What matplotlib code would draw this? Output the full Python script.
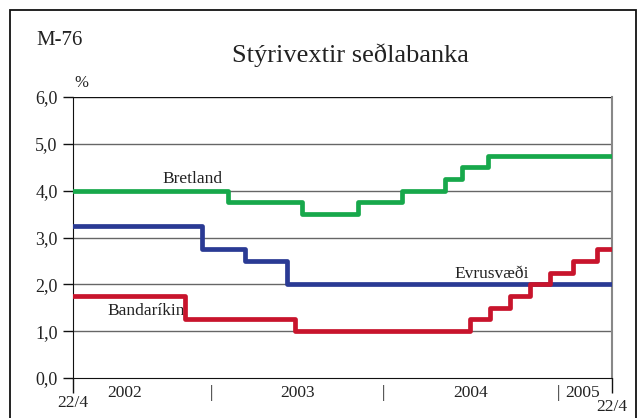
import matplotlib
matplotlib.use("Agg")
import matplotlib.pyplot as plt
from matplotlib.patches import Rectangle

plt.rcParams['font.family'] = ['Liberation Serif', 'DejaVu Serif']

# days since 22/4/2002
uk_days = [0, 315, 466, 580, 669, 756, 791, 844, 1096]
uk_rate = [4.0, 3.75, 3.5, 3.75, 4.0, 4.25, 4.5, 4.75, 4.75]

ez_days = [0, 262, 350, 435, 1096]
ez_rate = [3.25, 2.75, 2.5, 2.0, 2.0]

us_days = [0, 228, 451, 807, 848, 889, 929, 970, 1017, 1066, 1096]
us_rate = [1.75, 1.25, 1.0, 1.25, 1.5, 1.75, 2.0, 2.25, 2.5, 2.75, 2.75]

y_ticks = [0, 1, 2, 3, 4, 5, 6]
year_labels = ["2002", "2003", "2004", "2005"]
year_pos = [104, 457, 809, 1037]
sep_pos = [281, 632, 988]

green = "#17a84b"
blue = "#2a3a94"
red = "#c8142c"
txt = "#222222"

fig = plt.figure(figsize=(6.38, 4.18), dpi=100)
fig.patches.append(Rectangle((10 / 638, -0.05), 626 / 638, 1.05 - 10 / 418,
                             transform=fig.transFigure, fill=False,
                             edgecolor="#111111", lw=1.3))

ax = fig.add_axes([73 / 638, 40 / 418, 539 / 638, 281 / 418])
ax.set_xlim(0, 1096)
ax.set_ylim(0, 6)

for v in y_ticks[1:]:
    ax.axhline(v, color="#111111" if v == 6 else "#666666", lw=1.0, zorder=1)

ax.step(ez_days, ez_rate, where="post", color=blue, lw=3.4, zorder=3)
ax.step(us_days, us_rate, where="post", color=red, lw=3.4, zorder=4)
ax.step(uk_days, uk_rate, where="post", color=green, lw=3.4, zorder=3)

ax.spines["top"].set_visible(False)
ax.spines["right"].set_color("#888888")
ax.spines["right"].set_linewidth(1.5)
ax.spines["left"].set_color("#111111")
ax.spines["bottom"].set_color("#111111")

ax.set_yticks(y_ticks)
ax.set_yticklabels([f"{v:.1f}".replace(".", ",") for v in y_ticks])
ax.tick_params(axis="y", length=7, width=1, colors="#111111", labelcolor=txt,
               labelsize=13, pad=4)
ax.set_xticks([0, 1096])
ax.set_xticklabels([])
ax.tick_params(axis="x", length=11, width=1, colors="#111111", direction="out")

ax.text(0, -0.37, "22/4", ha="center", va="top", fontsize=12.5, color=txt)
ax.text(1096, -0.45, "22/4", ha="center", va="top", fontsize=12.5, color=txt)
for p, lab in zip(year_pos, year_labels):
    ax.text(p, -0.14, lab, ha="center", va="top", fontsize=12.5, color=txt)
for p in sep_pos:
    ax.text(p, -0.14, "|", ha="center", va="top", fontsize=12.5, color=txt)

ax.text(244, 4.07, "Bretland", ha="center", va="bottom", fontsize=12.5, color=txt)
ax.text(852, 2.05, "Evrusvæði", ha="center", va="bottom", fontsize=12.5, color=txt)
ax.text(148, 1.43, "Bandaríkin", ha="center", va="center", fontsize=12.5, color=txt)
ax.text(2, 6.12, "%", ha="left", va="bottom", fontsize=12, color=txt)

fig.text(36 / 638, 1 - 45 / 418, "M-76", ha="left", va="baseline", fontsize=15, color=txt)
fig.text(350 / 638, 1 - 62 / 418, "Stýrivextir seðlabanka", ha="center",
         va="baseline", fontsize=19, color=txt)

fig.savefig("out.png", dpi=100)
